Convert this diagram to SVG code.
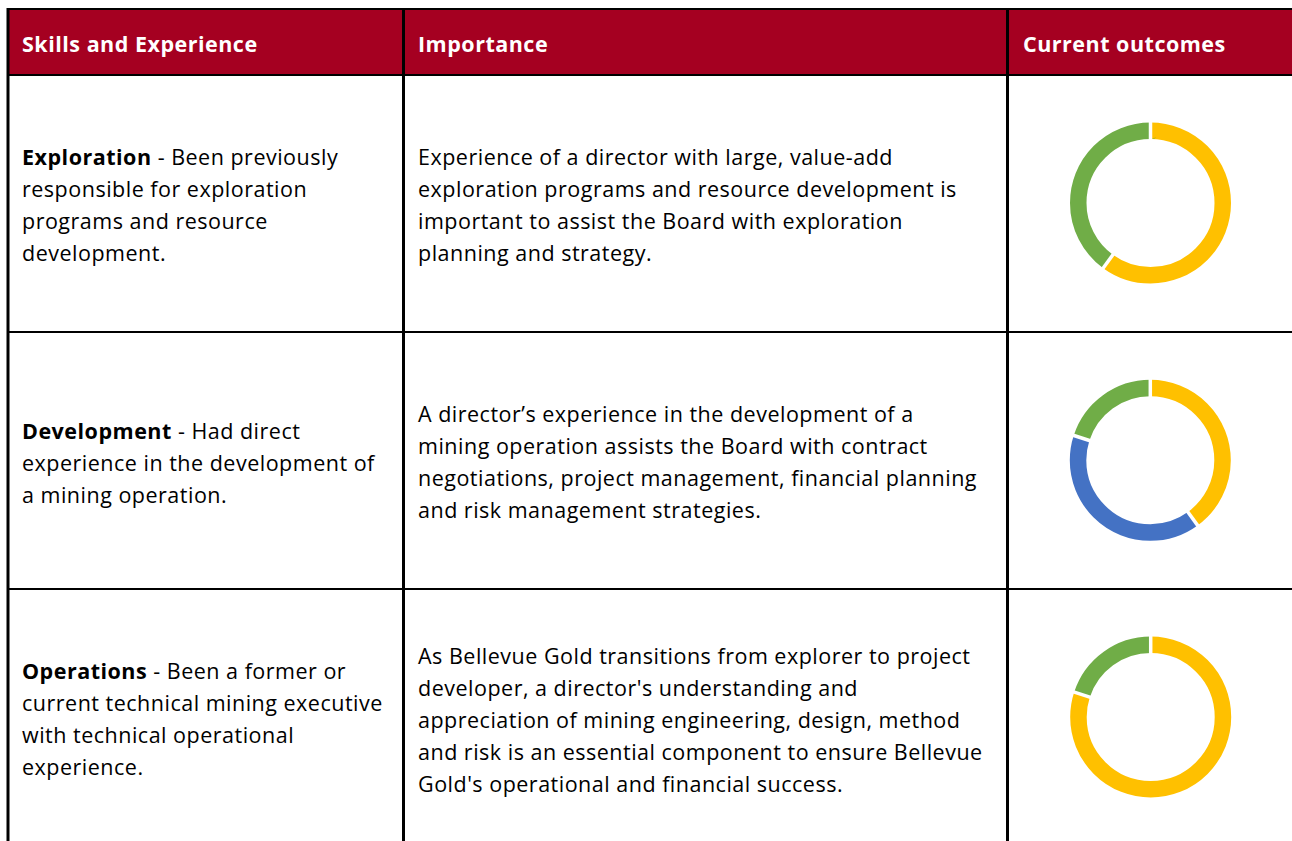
<svg xmlns="http://www.w3.org/2000/svg" width="1292" height="841" viewBox="0 0 1292 841">
<style>
  text { font-family: "Open Sans", "Noto Sans", "DejaVu Sans", sans-serif; font-size: 21.5px; letter-spacing: 0.5px; fill: #000; }
  .hd { font-weight: bold; fill: #fff; }
  .b { font-weight: bold; }
  .hl { stroke: #000; stroke-width: 2; }
  .vl { stroke: #000; stroke-width: 3; }
  .ring { fill: none; stroke-width: 16.5; }
  .sep { stroke: #fff; stroke-width: 3.5; }
  .y { stroke: #FFC000; }
  .g { stroke: #70AD47; }
  .bl { stroke: #4472C4; }
</style>
<rect x="0" y="0" width="1292" height="841" fill="#fff"/>
<g id="header">
  <rect x="8" y="9" width="1284" height="66" fill="#A50021"/>
  <text class="hd" x="22" y="52">Skills and Experience</text>
  <text class="hd" x="418" y="52">Importance</text>
  <text class="hd" x="1023" y="52">Current outcomes</text>
</g>
<g id="grid">
  <line class="hl" x1="7" y1="9" x2="1292" y2="9"/>
  <line class="hl" x1="7" y1="75" x2="1292" y2="75"/>
  <line class="hl" x1="7" y1="332" x2="1292" y2="332"/>
  <line class="hl" x1="7" y1="589" x2="1292" y2="589"/>
  <line class="vl" x1="8" y1="8" x2="8" y2="841"/>
  <line class="vl" x1="403.5" y1="8" x2="403.5" y2="841"/>
  <line class="vl" x1="1007.5" y1="8" x2="1007.5" y2="841"/>
</g>
<g id="row-exploration">
  <text x="22" y="165"><tspan class="b">Exploration</tspan> - Been previously</text>
  <text x="22" y="197">responsible for exploration</text>
  <text x="22" y="229">programs and resource</text>
  <text x="22" y="261">development.</text>
  <text x="418" y="165">Experience of a director with large, value-add</text>
  <text x="418" y="197">exploration programs and resource development is</text>
  <text x="418" y="229">important to assist the Board with exploration</text>
  <text x="418" y="261">planning and strategy.</text>
  <g id="donut-exploration" transform="translate(1150.5,203)">
    <circle class="ring y" r="72.25" pathLength="100" stroke-dasharray="60 40" transform="rotate(-90)"/>
    <circle class="ring g" r="72.25" pathLength="100" stroke-dasharray="40 60" stroke-dashoffset="-60" transform="rotate(-90)"/>
    <line class="sep" x1="0" y1="-60" x2="0" y2="-86"/>
    <line class="sep" x1="0" y1="-60" x2="0" y2="-86" transform="rotate(216)"/>
  </g>
</g>
<g id="row-development">
  <text x="22" y="439"><tspan class="b">Development</tspan> - Had direct</text>
  <text x="22" y="471">experience in the development of</text>
  <text x="22" y="503">a mining operation.</text>
  <text x="418" y="422">A director’s experience in the development of a</text>
  <text x="418" y="454">mining operation assists the Board with contract</text>
  <text x="418" y="486">negotiations, project management, financial planning</text>
  <text x="418" y="518">and risk management strategies.</text>
  <g id="donut-development" transform="translate(1150.3,460.3)">
    <circle class="ring y" r="72.25" pathLength="100" stroke-dasharray="40 60" transform="rotate(-90)"/>
    <circle class="ring bl" r="72.25" pathLength="100" stroke-dasharray="40 60" stroke-dashoffset="-40" transform="rotate(-90)"/>
    <circle class="ring g" r="72.25" pathLength="100" stroke-dasharray="20 80" stroke-dashoffset="-80" transform="rotate(-90)"/>
    <line class="sep" x1="0" y1="-60" x2="0" y2="-86"/>
    <line class="sep" x1="0" y1="-60" x2="0" y2="-86" transform="rotate(144)"/>
    <line class="sep" x1="0" y1="-60" x2="0" y2="-86" transform="rotate(288)"/>
  </g>
</g>
<g id="row-operations">
  <text x="22" y="679"><tspan class="b">Operations</tspan> - Been a former or</text>
  <text x="22" y="711">current technical mining executive</text>
  <text x="22" y="743">with technical operational</text>
  <text x="22" y="775">experience.</text>
  <text x="418" y="664">As Bellevue Gold transitions from explorer to project</text>
  <text x="418" y="696">developer, a director's understanding and</text>
  <text x="418" y="728">appreciation of mining engineering, design, method</text>
  <text x="418" y="760">and risk is an essential component to ensure Bellevue</text>
  <text x="418" y="792">Gold's operational and financial success.</text>
  <g id="donut-operations" transform="translate(1150.7,717)">
    <circle class="ring y" r="72.25" pathLength="100" stroke-dasharray="80 20" transform="rotate(-90)"/>
    <circle class="ring g" r="72.25" pathLength="100" stroke-dasharray="20 80" stroke-dashoffset="-80" transform="rotate(-90)"/>
    <line class="sep" x1="0" y1="-60" x2="0" y2="-86"/>
    <line class="sep" x1="0" y1="-60" x2="0" y2="-86" transform="rotate(288)"/>
  </g>
</g>
</svg>
